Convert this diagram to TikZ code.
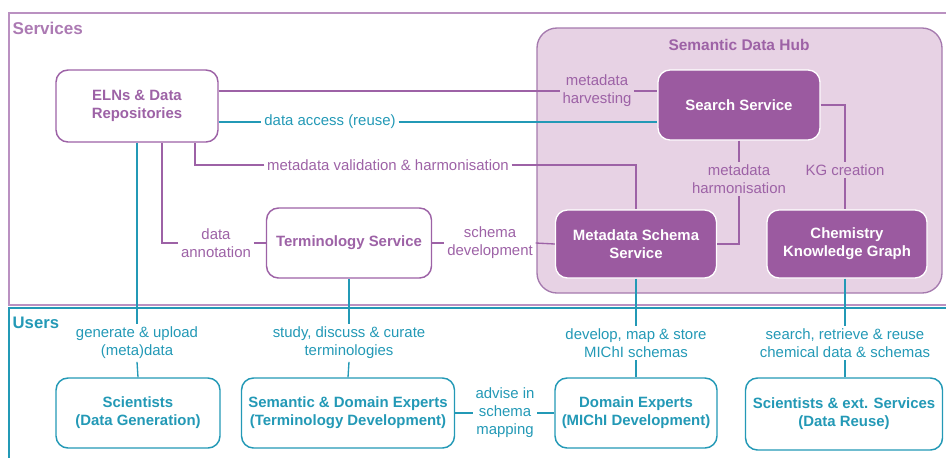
\documentclass[tikz,border=0pt]{standalone}
\usepackage{fontspec}
\setmainfont{Liberation Sans}
\usetikzlibrary{calc}

\definecolor{svcpurple}{HTML}{9D62A6}
\definecolor{svcfill}{HTML}{9B5AA0}
\definecolor{hubpink}{HTML}{E7D2E4}
\definecolor{hubline}{HTML}{A57AAE}
\definecolor{usrteal}{HTML}{2399B6}

\begin{document}
\begin{tikzpicture}[x=0.75pt,y=-0.75pt,
    font=\fontsize{11.2}{13.5}\selectfont,
    svcbox/.style={draw=svcpurple,line width=1.1pt,rounded corners=9pt,fill=white,
        text=svcpurple,font=\fontsize{11.2}{13.5}\selectfont\bfseries,align=center},
    hubbox/.style={draw=white,line width=1pt,rounded corners=9pt,fill=svcfill,
        text=white,font=\fontsize{11.2}{13.5}\selectfont\bfseries,align=center},
    usrbox/.style={draw=usrteal,line width=1.1pt,rounded corners=9pt,fill=white,
        text=usrteal,font=\fontsize{11.2}{13.5}\selectfont\bfseries,align=center},
    lbl/.style={text=svcpurple,align=center,inner sep=2pt},
    ulbl/.style={text=usrteal,align=center,inner sep=2pt},
    pline/.style={draw=svcpurple,line width=1pt},
    tline/.style={draw=usrteal,line width=1pt}]

    \useasboundingbox (0,0) rectangle (946,458);

    % Frames
    \draw[svcpurple!70,line width=1pt] (946,13) -- (9,13) -- (9,305) -- (946,305);
    \draw[usrteal,line width=1pt] (946,308) -- (9,308) -- (9,458);
    \node[anchor=west,text=svcpurple!85,font=\fontsize{12.8}{14}\selectfont\bfseries] (svclbl) at (8,28) {Services};
    \node[anchor=west,text=usrteal,font=\fontsize{12.5}{14}\selectfont\bfseries] (usrlbl) at (8,323) {Users};

    % Semantic Data Hub
    \draw[hubline,fill=hubpink,line width=1pt,rounded corners=15pt] (537,28) rectangle (942,293);
    \node[text=svcpurple,font=\fontsize{11.6}{13}\selectfont\bfseries] (hublbl) at (739,45) {Semantic Data Hub};

    % Services
    \node[svcbox,minimum width=121.5pt,minimum height=54pt] (eln) at (137,106) {ELNs \& Data\\Repositories};
    \node[svcbox,minimum width=123.75pt,minimum height=52.5pt] (term) at (349,243) {Terminology Service};
    \node[hubbox,minimum width=121.5pt,minimum height=52.5pt] (search) at (739,105) {Search Service};
    \node[hubbox,minimum width=120.75pt,minimum height=51pt] (schema) at (636,244) {Metadata Schema\\Service};
    \node[hubbox,minimum width=120pt,minimum height=51pt] (ckg) at (847,244) {Chemistry\\Knowledge Graph};

    % Users
    \node[usrbox,minimum width=123pt,minimum height=52.5pt] (sci) at (138,413) {Scientists\\(Data Generation)};
    \node[usrbox,minimum width=159.75pt,minimum height=52.5pt] (sde) at (348,413) {Semantic \& Domain Experts\\(Terminology Development)};
    \node[usrbox,minimum width=121.5pt,minimum height=52.5pt] (de) at (636,413) {Domain Experts\\(MIChI Development)};
    \node[usrbox,minimum width=147.75pt,minimum height=54pt] (ses) at (844,414) {Scientists \& ext. Services\\(Data Reuse)};

    % Labels
    \node[lbl] (harvest) at (597,91) {metadata\\harvesting};
    \node[ulbl] (access) at (330,122) {data access (reuse)};
    \node[lbl] (valid) at (388,165) {metadata validation \& harmonisation};
    \node[lbl] (annot) at (216,243) {data\\annotation};
    \node[lbl] (schdev) at (490,243) {schema\\development};
    \node[lbl] (harmon) at (739,179) {metadata\\harmonisation};
    \node[lbl] (kgc) at (845,170) {KG creation};
    \node[ulbl] (gen) at (137,343) {generate \& upload\\(meta)data};
    \node[ulbl] (study) at (349,343) {study, discuss \& curate\\terminologies};
    \node[ulbl] (devmap) at (636,343) {develop, map \& store\\MIChI schemas};
    \node[ulbl] (reuse) at (845,343) {search, retrieve \& reuse\\chemical data \& schemas};
    \node[ulbl] (advise) at (505,413) {advise in\\schema\\mapping};

    % Purple connectors
    \draw[pline] (eln.east |- harvest.west) -- (harvest.west);
    \draw[pline] (harvest.east) -- (harvest.east -| search.west);
    \draw[pline] (valid.west) -| ($(eln.south)+(58,0)$);
    \draw[pline] (valid.east) -| (schema.north);
    \draw[pline] (annot.west) -| ($(eln.south)+(25,0)$);
    \draw[pline] (annot.east) -- (term.west);
    \draw[pline] (term.east) -- (schdev.west);
    \draw[pline] (schdev.east) -- (schema.west);
    \draw[pline] (search.south) -- (harmon.north);
    \draw[pline] (harmon.south) |- (schema.east);
    \draw[pline] (search.east) -| (kgc.north);
    \draw[pline] (kgc.south) -- (kgc.south |- ckg.north);

    % Teal connectors
    \draw[tline] (eln.east |- access.west) -- (access.west);
    \draw[tline] (access.east) -- (access.east -| search.west);
    \draw[tline] (eln.south) -- (gen.north);
    \draw[tline] (gen.south) -- (sci.north);
    \draw[tline] (term.south) -- (study.north);
    \draw[tline] (study.south) -- (sde.north);
    \draw[tline] (schema.south) -- (devmap.north);
    \draw[tline] (devmap.south) -- (de.north);
    \draw[tline] (reuse.north |- ckg.south) -- (reuse.north);
    \draw[tline] (reuse.south) -- (reuse.south |- ses.north);
    \draw[tline] (sde.east) -- (advise.west);
    \draw[tline] (advise.east) -- (de.west);
\end{tikzpicture}
\end{document}
